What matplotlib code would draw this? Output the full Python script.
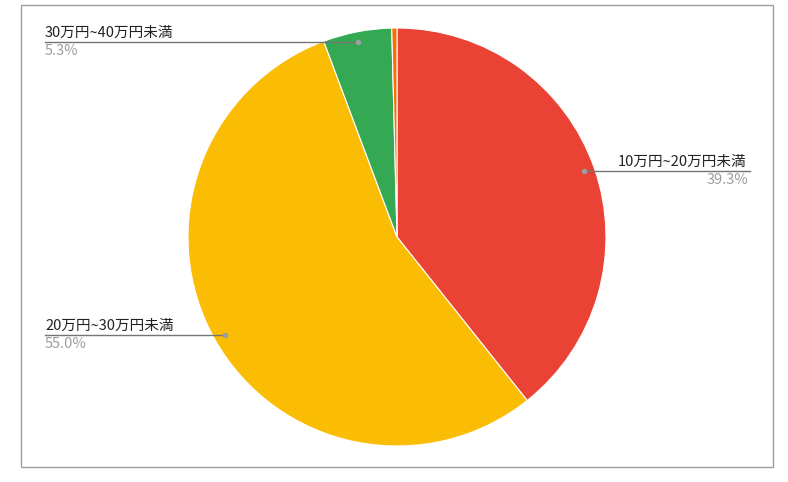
import matplotlib
matplotlib.use("Agg")
import matplotlib.pyplot as plt
from matplotlib.patches import Rectangle
from matplotlib.lines import Line2D

plt.rcParams['font.family'] = ['Noto Sans CJK JP', 'DejaVu Sans']

categories = ["10万円~20万円未満", "20万円~30万円未満", "30万円~40万円未満", "その他"]
values = [39.3, 55.0, 5.3, 0.4]
pct_labels = ["39.3%", "55.0%", "5.3%", ""]
colors = ["#EA4335", "#FBBC04", "#34A853", "#FF6D01"]

W, H = 788, 482
fig = plt.figure(figsize=(W/100, H/100), dpi=100)

def fx(x): return x / W
def fy(y): return 1 - y / H

fig.patches.append(Rectangle((fx(21), fy(467)), fx(773)-fx(21), fy(5)-fy(467),
                             transform=fig.transFigure, fill=False, edgecolor="#9e9e9e", lw=1))

cx, cy, r = 397, 237, 209
ax = fig.add_axes([fx(cx-r), fy(cy+r), 2*r/W, 2*r/H])
ax.pie(values, colors=colors, startangle=90, counterclock=False,
       wedgeprops=dict(edgecolor="white", linewidth=0.8))
ax.set_xlim(-1, 1)
ax.set_ylim(-1, 1)
ax.set_aspect('equal')

leaders = [
    (584, 171, 750, 618, 'left', 748, 'right', 0),
    (225, 335, 45, 45, 'left', 45, 'left', 1),
    (358, 42, 45, 45, 'left', 45, 'left', 2),
]
for dx, dy, ex, lx, lha, px, pha, i in leaders:
    fig.add_artist(Line2D([fx(dx), fx(ex)], [fy(dy), fy(dy)], transform=fig.transFigure,
                          color="#757575", lw=1))
    fig.add_artist(Line2D([fx(dx)], [fy(dy)], transform=fig.transFigure, marker='o',
                          ms=3, color="#9e9e9e"))
    fig.text(fx(lx), fy(dy-2), categories[i], ha=lha, va='bottom', fontsize=10.5, color="#222222")
    fig.text(fx(px), fy(dy+2), pct_labels[i], ha=pha, va='top', fontsize=10.5, color="#9e9e9e")

fig.savefig("out.png", dpi=100)
